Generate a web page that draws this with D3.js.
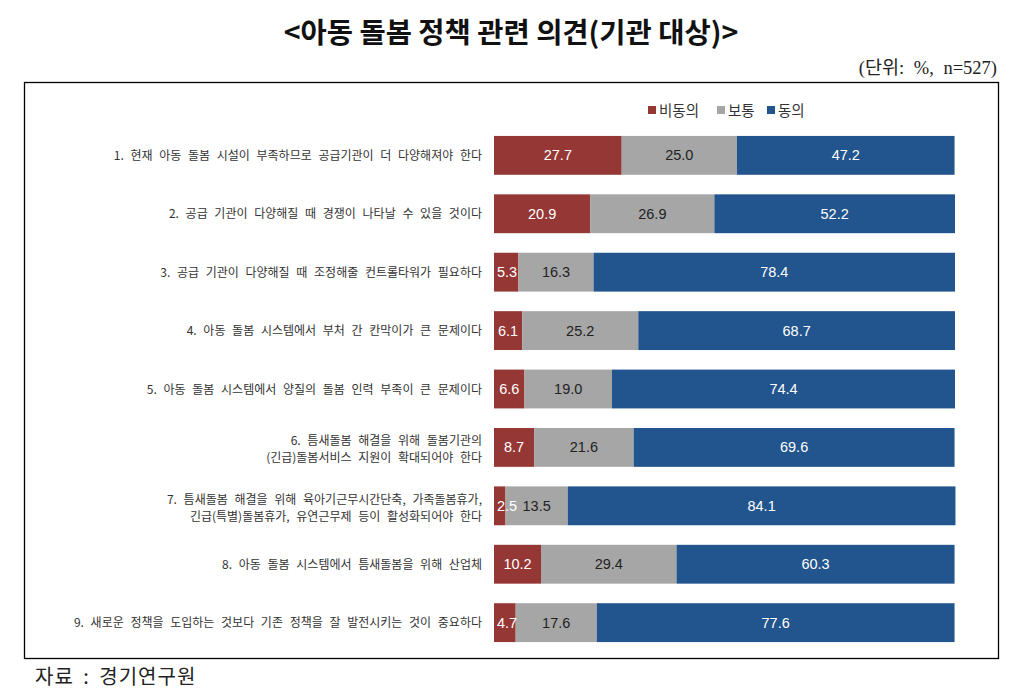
<!DOCTYPE html>
<html><head><meta charset="utf-8">
<script src="https://cdn.jsdelivr.net/npm/d3@7/dist/d3.min.js"></script>
<style>
body{margin:0;background:#fff;}
svg{display:block;}
</style></head>
<body>
<svg id="chart" width="1024" height="697"></svg>
<script>
const categories = [
  ["1. 현재 아동 돌봄 시설이 부족하므로 공급기관이 더 다양해져야 한다"],
  ["2. 공급 기관이 다양해질 때 경쟁이 나타날 수 있을 것이다"],
  ["3. 공급 기관이 다양해질 때 조정해줄 컨트롤타워가 필요하다"],
  ["4. 아동 돌봄 시스템에서 부처 간 칸막이가 큰 문제이다"],
  ["5. 아동 돌봄 시스템에서 양질의 돌봄 인력 부족이 큰 문제이다"],
  ["6. 틈새돌봄 해결을 위해 돌봄기관의", "(긴급)돌봄서비스 지원이 확대되어야 한다"],
  ["7. 틈새돌봄 해결을 위해 육아기근무시간단축, 가족돌봄휴가,", "긴급(특별)돌봄휴가, 유연근무제 등이 활성화되어야 한다"],
  ["8. 아동 돌봄 시스템에서 틈새돌봄을 위해 산업체"],
  ["9. 새로운 정책을 도입하는 것보다 기존 정책을 잘 발전시키는 것이 중요하다"]
];
const seriesNames = ["비동의", "보통", "동의"];
const disagree = [27.7, 20.9, 5.3, 6.1, 6.6, 8.7, 2.5, 10.2, 4.7];
const neutral  = [25.0, 26.9, 16.3, 25.2, 19.0, 21.6, 13.5, 29.4, 17.6];
const agree    = [47.2, 52.2, 78.4, 68.7, 74.4, 69.6, 84.1, 60.3, 77.6];
const colors = ["#953735", "#a6a6a6", "#22548d"];
const labelColors = ["#ffffff", "#222222", "#ffffff"];

const svg = d3.select("#chart");

// Title
svg.append("text").attr("x", 511).attr("y", 43).attr("text-anchor", "middle")
  .attr("font-family", "Noto Sans CJK KR").attr("font-weight", "bold")
  .attr("font-size", 28.5).attr("fill", "#111").text("<아동 돌봄 정책 관련 의견(기관 대상)>");

svg.append("text").attr("x", 997).attr("y", 74).attr("text-anchor", "end")
  .attr("font-family", "Liberation Serif, Noto Sans CJK KR").attr("font-size", 18.5)
  .attr("word-spacing", 5)
  .attr("fill", "#222").text("(단위: %, n=527)");

// Frame
svg.append("rect").attr("x", 24.5).attr("y", 82.5).attr("width", 974).attr("height", 576)
  .attr("fill", "none").attr("stroke", "#000").attr("stroke-width", 1.3);

svg.append("text").attr("x", 35).attr("y", 684)
  .attr("font-family", "Noto Sans CJK KR").attr("font-size", 20)
  .attr("letter-spacing", 1).attr("word-spacing", 4)
  .attr("fill", "#222").text("자료 : 경기연구원");

// Scales
const x = d3.scaleLinear().domain([0, 100]).range([494, 955]);
const y = d3.scaleBand().domain(d3.range(categories.length)).range([126, 652]).paddingInner(0.335).paddingOuter(0.17);

const data = categories.map((c, i) => ({i, vals: [disagree[i], neutral[i], agree[i]]}));
const stack = [];
data.forEach(d => {
  let acc = 0;
  d.vals.forEach((v, k) => {
    stack.push({i: d.i, k, v, x0: acc, x1: acc + v});
    acc += v;
  });
});

const g = svg.append("g");
g.selectAll("rect.bar").data(stack).join("rect").attr("class", "bar")
  .attr("x", d => x(d.x0)).attr("width", d => x(d.x1) - x(d.x0))
  .attr("y", d => y(d.i)).attr("height", y.bandwidth())
  .attr("fill", d => colors[d.k]);

g.selectAll("text.val").data(stack).join("text").attr("class", "val")
  .attr("x", d => {
    const c = (x(d.x0) + x(d.x1)) / 2;
    return Math.max(c, x(d.x0) + 13);
  })
  .attr("y", d => y(d.i) + y.bandwidth() / 2 + 5)
  .attr("text-anchor", "middle")
  .attr("font-family", "Liberation Sans, Arial, sans-serif").attr("font-size", 14.5)
  .attr("fill", d => labelColors[d.k])
  .text(d => d.v.toFixed(1));

// Category labels
const cat = svg.append("g");
categories.forEach((lines, i) => {
  const cy = y(i) + y.bandwidth() / 2;
  const n = lines.length;
  lines.forEach((ln, j) => {
    cat.append("text").attr("x", 482)
      .attr("y", cy + 4.5 + (j - (n - 1) / 2) * 17 + (n > 1 ? 2 : 0))
      .attr("text-anchor", "end")
      .attr("font-family", "Noto Sans CJK KR").attr("font-size", 12)
      .attr("word-spacing", 4)
      .attr("fill", "#333").text(ln);
  });
});

// Legend
const legendX = [648, 717, 767];
const lg = svg.append("g");
seriesNames.forEach((s, k) => {
  lg.append("rect").attr("x", legendX[k]).attr("y", 106).attr("width", 8).attr("height", 8)
    .attr("fill", colors[k]);
  lg.append("text").attr("x", legendX[k] + 11).attr("y", 115.5)
    .attr("font-family", "Noto Sans CJK KR").attr("font-size", 14.5)
    .attr("fill", "#333").text(s);
});
</script>
</body></html>
